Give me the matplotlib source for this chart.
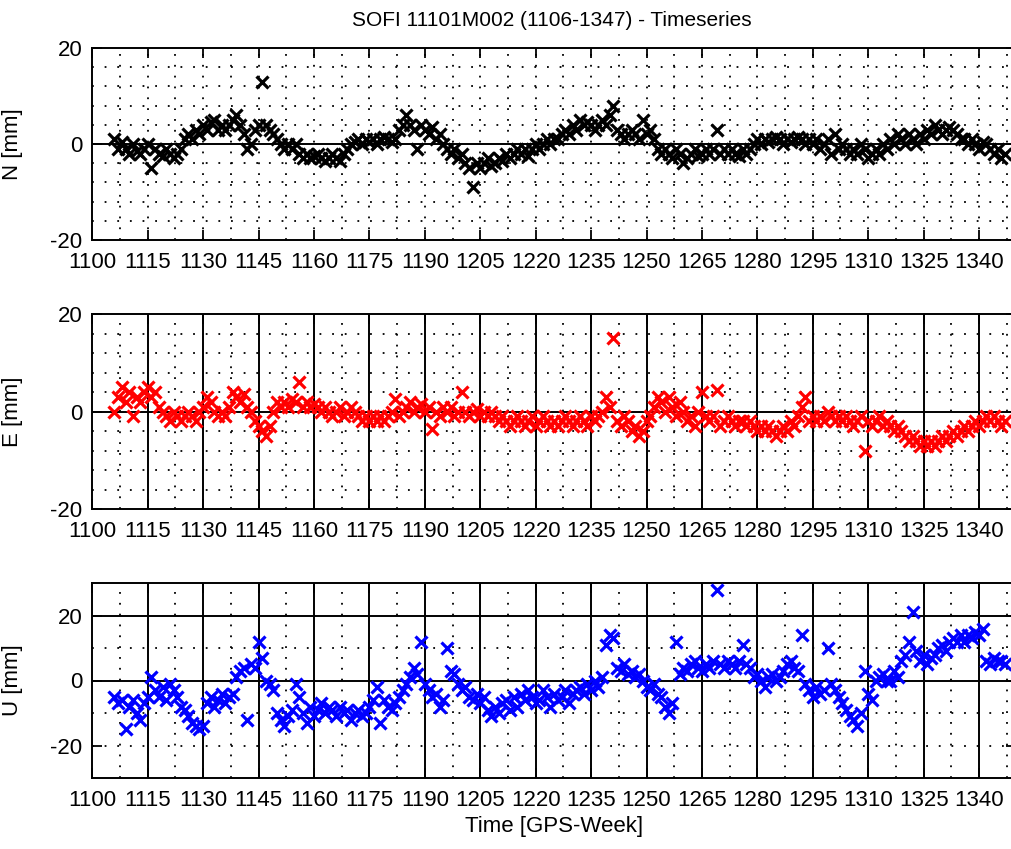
import numpy as np
import matplotlib
matplotlib.use('Agg')
import matplotlib.pyplot as plt

plt.rcParams['font.family'] = ['Liberation Sans', 'DejaVu Sans']
plt.rcParams['axes.unicode_minus'] = False

# GPS weeks 1106..1347
first_week = 1106
last_week = 1347

north = [1, -1, 0.5, -1, -2, 0, -1.5, -2, -1, 0,
         -5, -1, -2, -2.5, -1, -2, -3, -2, -1, 1,
         2, 1, 3, 2, 4, 3, 4.5, 5, 3, 4,
         3, 4, 5, 6, 4, 2, -1, 0, 3, 4,
         13, 4, 3, 2, 1, 0, -1, 0, -1, 0,
         -2, -3, -2, -3, -2.5, -2, -3, -3.5, -3, -2,
         -3, -3.5, -2, -1, 0, 0.5, 1, 0, 1, 0.5,
         1, 0, 1, 1.5, 1, 0.5, 1, 3, 4, 6,
         4, 3, -1, 4, 3, 2, 3.5, 1, 2, 0,
         -1, -2, -1, -3, -2, -4, -5, -9, -4, -5,
         -4, -3, -4.5, -4, -3, -3.5, -2, -3, -2, -1,
         -2, -1, -2.5, -1, 0, -1, 0, 1, 0, 1,
         1, 2, 3, 2, 4, 3, 5, 4, 4.5, 4,
         3, 4, 5, 4, 6, 8, 3, 2, 1, 2,
         3, 2, 1, 5, 2, 3, 1, -1, -2, -1,
         -2, -3, -1, -2, -4, -3, -2, -1, -2.5, -2,
         -1, -2, -1, 3, -2, -1, -2, -1, -2, -2.5,
         -1, -2, -1, 0, 1, 0, 1, 0.5, 1, 1.5,
         1, 0, 1, 0.5, 1, 1.5, 1, 0, 1, 0,
         1, -1, 0, 1, -2, 2, -1, 0, -1, -2,
         -1, -2, 0, -1, -3, -2, -1, -2, 0, -1,
         1, 0, 2, 1, 0, 2, 1, 0, 2, 1,
         3, 2, 4, 3, 2, 3, 3.5, 3, 2, 1,
         1, 0, 1, 0, -1, 0.5, 0, -1, -2, -1,
         -3, -2]

east = [0, 3, 5, 2, 4, -1, 3, 2, 4, 5,
        3, 4, 1, 0, -1, -2, 0, -1, -2, -1,
        0, -1, -2, 0, 1, 3, 2, 0, -1, 0,
        -1, 1, 4, 3, 2, 3.5, 1, 0, -2, -3,
        -4, -5, -3, 0, 2, 1, 2, 1, 2.5, 2,
        6, 1, 2, 1, 1.5, 1, 0, 1, 0, -1,
        0, 1, -1, 0, 1, 0, -1, -2, -1, -2,
        -1, -2, -1, -2, -1, 0, 2.5, -1, 0, 1,
        2, 0, 1, 1.5, 0, 1, -3.5, 0, -1, 1,
        0, 1, -1, 0, 4, 0, -1, 0, 0.5, -1,
        0, -1, 0, -1, -2, -1, -2, -3, -2, -1,
        -2, -3, -2, -1, -3, -2, -1, -2, -3, -2,
        -3, -2, -1, -2, -3, -2, -1, -2, -3, -1,
        -2, -1, 0, 3, 1, 15, -2, -3, -1, -2,
        -4, -3, -5, -4, -2, -1, 1, 3, 2, 0,
        3, 1, -1, 2, 0, -2, -1, -3, 0, 4,
        -1, -2, -1, 4.5, -3, -2, -1, -2, -3, -2,
        -2, -3, -2, -3, -4, -3, -4, -3, -4, -5,
        -4, -3, -4, -2, -3, -1, 1, 3, -2, -1,
        -2, -1, -2, 0, -1, -2, -1, -2, -1, -2,
        -3, -2, -1, -8, -2, -3, -2, -1, -3, -2,
        -3, -4, -3, -4, -5, -6, -5, -6, -7, -6,
        -7, -6, -7, -6, -5, -6, -5, -4, -5, -4,
        -3, -4, -3, -2, -3, -2, -1, -2, -1, -2,
        -3, -2]

up = [-5, -7, -6, -15, -8, -6, -10, -12, -7, -5,
      1, -3, -5, -2, -6, -1, -3, -5, -8, -9,
      -11, -13, -14, -15, -14, -7, -5, -8, -6, -4,
      -7, -5, -4, 1, 3, 4, -12, 5, 4, 12,
      7, 0, -1, -3, -10, -12, -14, -11, -9, -1,
      -5, -10, -13, -8, -11, -9, -7, -10, -8, -9,
      -11, -8, -10, -9, -12, -10, -9, -11, -10, -8,
      -6, -2, -13, -6, -8, -9, -7, -5, -3, -1,
      1, 4, 2, 12, -1, -3, -5, -4, -8, -6,
      10, 3, 2, -1, -3, -2, -5, -6, -4, -7,
      -5, -9, -11, -8, -10, -7, -6, -9, -5, -8,
      -4, -6, -3, -5, -7, -6, -3, -5, -8, -4,
      -6, -5, -3, -7, -4, -3, -2, -4, -1, -3,
      0, -2, 1, 11, 14, 13, 4, 3, 5, 2,
      3, 1, 2, 0, -2, -3, -1, -4, -5, -8,
      -10, -7, 12, 2, 4, 3, 5, 6, 4, 3,
      5, 4, 6, 28, 5, 4, 6, 5, 4, 6,
      11, 5, 4, 1, 2, 0, -2, 1, 2, 0,
      1, 3, 5, 6, 4, 3, 14, -1, -3, -5,
      -2, -4, -3, 10, -1, -3, -5, -7, -9, -11,
      -12, -14, -10, 3, -4, -6, 0, 1, 2, 0,
      0, 3, 1, 6, 8, 12, 21, 9, 6, 8,
      5, 7, 8, 10, 11, 9, 12, 13, 12, 14,
      12, 14, 13, 15, 14, 16, 6, 5, 7, 6,
      6, 5]

weeks = np.arange(first_week, last_week + 1)

W, H = 1012, 849
fig = plt.figure(figsize=(W / 100, H / 100), dpi=100)

left = 92.3 / W
width = (1016 - 92.3) / W
major_x = list(range(1100, 1341, 15))
mid_x = [m + 7.5 for m in range(1100, 1341, 15)]

dot_h = (0, (1, 6))
dot_v = (0, (1, 5))


def panel(top_px, bot_px, vals, color, ylim, ylab, solid_vert, solid_h, dotted_h, dotted_major):
    ax = fig.add_axes([left, 1 - bot_px / H, width, (bot_px - top_px) / H])
    ax.set_xlim(1100, 1350)
    ax.set_ylim(*ylim)
    ax.set_xticks(major_x)
    ax.set_yticks([-20, 0, 20])
    ax.tick_params(direction='in', top=True, right=True, length=7, width=1.3,
                   labelsize=16, pad=7)
    ax.tick_params(axis='x', pad=8.5)
    for s in ax.spines.values():
        s.set_linewidth(1.4)
    # grid
    for x in mid_x:
        ax.axvline(x, color='k', lw=1.3, ls=dot_v, zorder=1)
    for x in major_x[1:]:
        if solid_vert:
            ax.axvline(x, color='k', lw=1.4, zorder=1)
        elif dotted_major:
            ax.axvline(x, color='k', lw=1.3, ls=dot_v, zorder=1)
    for y in dotted_h:
        ax.axhline(y, color='k', lw=1.3, ls=dot_h, zorder=1)
    for y in solid_h:
        ax.axhline(y, color='k', lw=1.4, zorder=1)
    ax.plot(weeks, vals, 'x', color=color, ms=8.5, mew=2.3, zorder=3)
    ax.set_ylabel(ylab, fontsize=16)
    ax.yaxis.set_label_coords(-0.075, 0.5)
    return ax


ax1 = panel(48, 240, north, 'k', (-20, 20), 'N [mm]', False, [0],
            [-16, -12, -8, -4, 4, 8, 12, 16], True)
ax2 = panel(314, 509, east, '#ff0000', (-20, 20), 'E [mm]', True, [0],
            [-16, -12, -8, -4, 4, 8, 12, 16], False)
ax3 = panel(583, 778, up, '#0000ff', (-30, 30), 'U [mm]', True, [0, 20],
            [-20, -10, 10], False)

ax3.set_xlabel('Time [GPS-Week]', fontsize=16, labelpad=4)

fig.text(0.545, 1 - 20 / H, 'SOFI 11101M002 (1106-1347) - Timeseries',
         ha='center', va='center', fontsize=15)

fig.savefig('out.png', dpi=100)
